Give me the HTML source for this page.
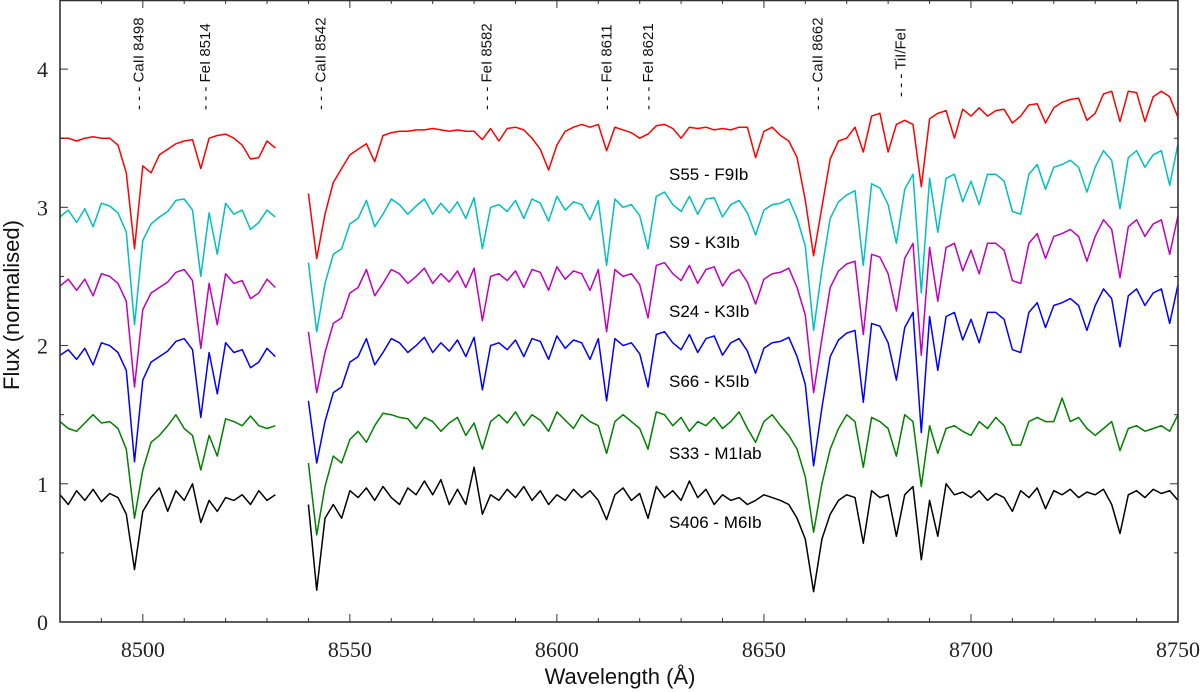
<!DOCTYPE html>
<html><head><meta charset="utf-8"><style>
html,body{margin:0;padding:0;background:#fff;}
svg{display:block;font-family:"Liberation Sans",sans-serif;}
</style></head><body>
<svg id="chart" width="1200" height="692" viewBox="0 0 1200 692" xmlns="http://www.w3.org/2000/svg">
<g id="series"></g>
<g id="axes"></g>
<g id="ann"></g>
</svg>
<script>
// wavelength grids
const waveA = [8480,8482,8484,8486,8488,8490,8492,8494,8496,8498,8500,8502,8504,8506,8508,8510,8512,8514,8516,8518,8520,8522,8524,8526,8528,8530,8532];
const waveBStart = 8540, waveBStep = 2, waveBCount = 106;
const waveB = [];
for (let i = 0; i < waveBCount; i++) waveB.push(waveBStart + i * waveBStep);

const seriesNames = ["S55 - F9Ib","S9 - K3Ib","S24 - K3Ib","S66 - K5Ib","S33 - M1Iab","S406 - M6Ib"];

const s55A = [3.50,3.50,3.48,3.50,3.51,3.50,3.50,3.45,3.25,2.70,3.30,3.25,3.38,3.42,3.46,3.48,3.49,3.28,3.50,3.52,3.53,3.50,3.45,3.35,3.36,3.48,3.43];
const s55B = [3.10,2.63,2.95,3.18,3.28,3.38,3.42,3.46,3.33,3.52,3.54,3.55,3.55,3.56,3.56,3.57,3.56,3.55,3.56,3.55,3.55,3.49,3.57,3.48,3.57,3.58,3.56,3.50,3.42,3.27,3.45,3.55,3.58,3.60,3.58,3.60,3.41,3.58,3.56,3.54,3.50,3.53,3.59,3.60,3.57,3.50,3.58,3.57,3.58,3.56,3.57,3.56,3.58,3.58,3.36,3.55,3.58,3.52,3.48,3.36,3.05,2.65,3.00,3.35,3.48,3.50,3.58,3.40,3.66,3.68,3.40,3.60,3.63,3.60,3.15,3.64,3.68,3.70,3.50,3.71,3.66,3.72,3.66,3.70,3.71,3.61,3.66,3.74,3.75,3.61,3.72,3.76,3.78,3.79,3.63,3.68,3.82,3.84,3.62,3.84,3.83,3.62,3.80,3.84,3.80,3.65];

const s9A = [2.93,2.98,2.89,2.99,2.86,3.03,3.01,2.96,2.82,2.15,2.76,2.88,2.93,2.97,3.05,3.06,2.98,2.50,2.96,2.66,3.03,2.95,2.98,2.84,2.89,2.98,2.93];
const s9B = [2.60,2.10,2.45,2.66,2.70,2.88,2.92,3.05,2.86,2.95,3.06,3.02,2.95,3.01,3.06,2.95,3.03,2.96,3.04,2.92,3.07,2.70,3.00,3.02,2.97,3.05,2.92,3.06,3.03,2.90,3.08,2.98,3.04,3.02,2.91,3.05,2.58,3.06,3.00,3.02,2.94,2.70,3.08,3.11,3.02,2.97,3.08,2.95,3.06,3.07,2.93,3.02,3.05,2.96,2.80,2.98,3.02,3.03,3.06,2.92,2.72,2.11,2.55,2.92,3.04,3.09,3.12,2.58,3.17,3.14,3.02,2.74,3.13,3.24,2.38,3.21,2.82,3.21,3.24,3.04,3.19,3.02,3.24,3.24,3.19,2.97,2.95,3.24,3.31,3.13,3.29,3.31,3.34,3.29,3.11,3.29,3.41,3.34,2.99,3.36,3.41,3.29,3.38,3.41,3.16,3.46];

const s24A = [2.43,2.48,2.40,2.48,2.36,2.52,2.50,2.45,2.32,1.70,2.26,2.38,2.42,2.46,2.53,2.55,2.47,1.98,2.45,2.15,2.52,2.45,2.47,2.34,2.38,2.48,2.42];
const s24B = [2.10,1.66,1.95,2.16,2.20,2.38,2.42,2.55,2.36,2.45,2.55,2.52,2.45,2.50,2.56,2.45,2.52,2.46,2.54,2.42,2.56,2.18,2.50,2.52,2.47,2.54,2.42,2.55,2.53,2.40,2.57,2.48,2.54,2.52,2.40,2.55,2.10,2.55,2.50,2.52,2.44,2.20,2.58,2.60,2.52,2.47,2.58,2.45,2.55,2.57,2.43,2.52,2.55,2.46,2.30,2.48,2.52,2.53,2.56,2.42,2.22,1.66,2.05,2.42,2.54,2.59,2.61,2.08,2.66,2.64,2.52,2.25,2.63,2.74,1.93,2.71,2.32,2.71,2.74,2.54,2.69,2.52,2.74,2.74,2.69,2.47,2.45,2.74,2.81,2.63,2.79,2.81,2.84,2.79,2.61,2.79,2.91,2.84,2.49,2.86,2.91,2.79,2.88,2.91,2.66,2.94];

const s66A = [1.93,1.97,1.90,1.98,1.86,2.02,2.00,1.95,1.82,1.16,1.75,1.88,1.92,1.96,2.03,2.05,1.97,1.48,1.95,1.65,2.02,1.95,1.97,1.84,1.88,1.98,1.92];
const s66B = [1.60,1.15,1.45,1.66,1.70,1.88,1.92,2.05,1.86,1.95,2.05,2.02,1.95,2.00,2.06,1.95,2.02,1.96,2.04,1.92,2.06,1.68,2.00,2.02,1.97,2.04,1.92,2.05,2.03,1.90,2.07,1.98,2.04,2.02,1.90,2.05,1.60,2.05,2.00,2.02,1.94,1.70,2.08,2.10,2.02,1.97,2.08,1.95,2.05,2.07,1.93,2.02,2.05,1.96,1.80,1.98,2.02,2.03,2.06,1.92,1.72,1.13,1.55,1.92,2.04,2.09,2.11,1.59,2.16,2.14,2.02,1.75,2.13,2.24,1.37,2.21,1.82,2.21,2.24,2.04,2.19,2.02,2.24,2.24,2.19,1.97,1.95,2.24,2.31,2.13,2.29,2.31,2.34,2.29,2.11,2.29,2.41,2.34,1.99,2.36,2.41,2.29,2.38,2.41,2.16,2.44];

const s33A = [1.45,1.40,1.38,1.44,1.50,1.44,1.45,1.40,1.25,0.75,1.10,1.30,1.35,1.42,1.50,1.40,1.35,1.10,1.35,1.20,1.47,1.45,1.42,1.49,1.42,1.40,1.42];
const s33B = [1.15,0.63,0.98,1.20,1.15,1.32,1.38,1.30,1.42,1.51,1.50,1.48,1.47,1.40,1.48,1.45,1.38,1.44,1.48,1.35,1.44,1.25,1.45,1.50,1.44,1.52,1.42,1.50,1.46,1.38,1.52,1.46,1.40,1.50,1.45,1.42,1.22,1.45,1.50,1.45,1.40,1.25,1.52,1.50,1.42,1.48,1.38,1.45,1.42,1.48,1.40,1.45,1.52,1.40,1.30,1.45,1.50,1.42,1.35,1.25,1.05,0.65,1.00,1.25,1.40,1.50,1.45,1.12,1.48,1.45,1.40,1.20,1.50,1.45,0.98,1.42,1.22,1.40,1.42,1.38,1.35,1.45,1.40,1.48,1.42,1.28,1.28,1.45,1.48,1.45,1.45,1.62,1.45,1.48,1.40,1.35,1.40,1.45,1.24,1.40,1.42,1.38,1.40,1.42,1.38,1.50];

const s406A = [0.92,0.85,0.95,0.88,0.96,0.87,0.93,0.90,0.78,0.38,0.80,0.90,0.97,0.80,0.95,0.88,1.00,0.72,0.88,0.80,0.90,0.88,0.92,0.85,0.95,0.88,0.92];
const s406B = [0.85,0.23,0.75,0.85,0.75,0.95,0.90,0.97,0.88,0.98,0.90,0.85,0.97,0.92,1.02,0.92,1.03,0.85,0.96,0.85,1.12,0.78,0.92,0.88,0.96,0.90,0.98,0.88,0.95,0.85,0.92,0.88,0.96,0.90,0.95,0.88,0.74,0.92,0.97,0.88,0.93,0.75,0.98,0.90,0.95,0.88,1.02,0.90,0.96,0.85,0.92,0.88,0.90,0.85,0.88,0.92,0.90,0.88,0.85,0.75,0.60,0.22,0.60,0.78,0.88,0.92,0.90,0.57,0.95,0.90,0.92,0.62,0.92,0.98,0.45,0.88,0.62,1.00,0.92,0.94,0.90,0.95,0.88,0.93,0.90,0.80,0.95,0.90,0.97,0.82,0.95,0.92,0.96,0.90,0.94,0.92,0.96,0.85,0.64,0.92,0.95,0.90,0.96,0.93,0.95,0.88];

const xTickLabels = ["8500","8550","8600","8650","8700","8750"];
const yTickLabels = ["0","1","2","3","4"];
const annLabels = ["CaII 8498","FeI 8514","CaII 8542","FeI 8582","FeI 8611","FeI 8621","CaII 8662","TiI/FeI"];
const annWaves = [8498,8514,8542,8582,8611,8621,8662,8682];

const X0 = 60, X1 = 1178, Y0 = 622, YT = 0;
const xmin = 8480, xmax = 8750, ymin = 0, ymax = 4.5;
const xs = w => X0 + (w - xmin) / (xmax - xmin) * (X1 - X0);
const ys = v => Y0 - (v - ymin) / (ymax - ymin) * (Y0 - YT);
const NS = "http://www.w3.org/2000/svg";
function mk(tag, attrs, parent){const e=document.createElementNS(NS,tag);for(const k in attrs)e.setAttribute(k,attrs[k]);parent.appendChild(e);return e;}

const colors = ["#ff0000","#00bfbf","#bf00bf","#0000ff","#008000","#000000"];
const dataA = [s55A,s9A,s24A,s66A,s33A,s406A];
const dataB = [s55B,s9B,s24B,s66B,s33B,s406B];
const keys = ["s55","s9","s24","s66","s33","s406"];
const labelY = [180,248,317,387,459,528];
const sg = document.getElementById('series');
for (let s = 0; s < 6; s++) {
  const pa = waveA.map((w,i)=>(i?'L':'M')+xs(w).toFixed(1)+' '+ys(dataA[s][i]).toFixed(1)).join('');
  const p1 = mk('path',{d:pa,fill:'none',stroke:colors[s],'stroke-width':1.5,'stroke-linejoin':'round'},sg);
  
  
  const pb = waveB.map((w,i)=>(i?'L':'M')+xs(w).toFixed(1)+' '+ys(dataB[s][i]).toFixed(1)).join('');
  const p2 = mk('path',{d:pb,fill:'none',stroke:colors[s],'stroke-width':1.5,'stroke-linejoin':'round'},sg);
  
  
  const t = mk('text',{x:669,y:labelY[s],'font-size':17,fill:'#000'},sg);
  t.textContent = seriesNames[s];
  
  
}

const ax = document.getElementById('axes');
const frame = mk('rect',{x:X0,y:YT+0.5,width:X1-X0,height:Y0-YT-0.5,fill:'none',stroke:'#333','stroke-width':1.6},ax);


for (let w = 8480; w <= 8750; w += 10) {
  const major = (w % 50 === 0);
  const L = major ? 8 : 4;
  mk('line',{x1:xs(w),x2:xs(w),y1:Y0,y2:Y0-L,stroke:'#333','stroke-width':1},ax);
  mk('line',{x1:xs(w),x2:xs(w),y1:YT,y2:YT+L,stroke:'#333','stroke-width':1},ax);
}
xTickLabels.forEach(l=>{
  const t = mk('text',{x:xs(+l),y:657,'text-anchor':'middle','font-size':22,'font-family':'"Liberation Serif",serif',fill:'#222'},ax);
  t.textContent = l;
  
  
});
for (let v = 0; v <= 4.5; v += 0.5) {
  const major = (v % 1 === 0);
  const L = major ? 8 : 4;
  mk('line',{x1:X0,x2:X0+L,y1:ys(v),y2:ys(v),stroke:'#333','stroke-width':1},ax);
  mk('line',{x1:X1,x2:X1-L,y1:ys(v),y2:ys(v),stroke:'#333','stroke-width':1},ax);
}
yTickLabels.forEach(l=>{
  const t = mk('text',{x:48,y:ys(+l)+8,'text-anchor':'end','font-size':22,'font-family':'"Liberation Serif",serif',fill:'#222'},ax);
  t.textContent = l;
  
  
});
const xt = mk('text',{x:620,y:684,'text-anchor':'middle','font-size':22,fill:'#111'},ax);
xt.textContent = 'Wavelength (Å)';


const yt = mk('text',{x:0,y:0,'text-anchor':'middle','font-size':22,fill:'#111',transform:'translate(19,305) rotate(-90)'},ax);
yt.textContent = 'Flux (normalised)';



const an = document.getElementById('ann');
annLabels.forEach((l,i)=>{
  const x = xs(annWaves[i]) + 9;
  const yb = (l === 'TiI/FeI') ? 97 : 110;
  const t = mk('text',{x:0,y:0,'font-size':15,fill:'#111',transform:'translate('+x.toFixed(1)+','+yb+') rotate(-90)'},an);
  t.textContent = '- - - ' + l;
  
  
});
</script>
</body></html>
